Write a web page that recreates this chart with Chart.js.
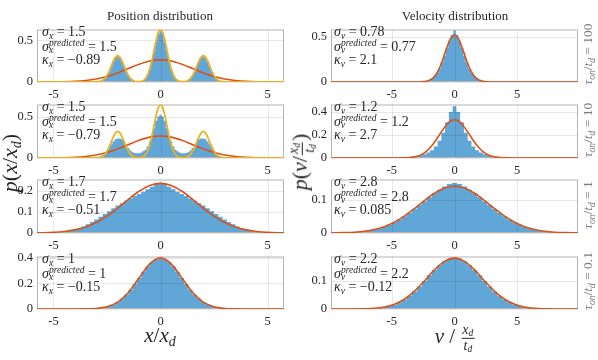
<!DOCTYPE html>
<html>
<head>
<meta charset="utf-8">
<script src="https://cdn.jsdelivr.net/npm/chart.js@4.4.1/dist/chart.umd.min.js"></script>
<style>
  body { margin: 0; background: #fff; }
  #fig { position: relative; width: 598px; height: 360px; overflow: hidden;
         font-family: "Liberation Serif", serif; color: #262626; }
  #fig canvas { position: absolute; }
  .lbl { position: absolute; white-space: nowrap; line-height: 1; }
  .ann { font-size: 14px; }
  .sb { font-size: 9.5px; font-style: italic; position: relative; top: 3px; }
  .st { position: relative; display: inline-block; line-height: 9px; }
  .sp { font-size: 9.5px; font-style: italic; position: relative; top: -5px; }
  .sb2 { font-size: 9.5px; font-style: italic; position: absolute; left: 0; top: 4px; }
  .title { font-size: 13px; transform: translate(-50%, -50%); }
  .rot { transform: translate(-50%, -50%) rotate(-90deg); }
  .tau { font-size: 13.5px; color: #7a7a7a; }
  .big { font-size: 22px; }
  .xl { font-size: 21px; }
  .bsb { font-size: 14px; font-style: italic; position: relative; top: 4px; }
  .frac { display: inline-flex; flex-direction: column; align-items: center;
          vertical-align: middle; font-size: 14px; line-height: 1.05; margin: 0 1px; }
  .frac > span:first-child { border-bottom: 1px solid currentColor; padding: 0 1px; }
  .fsb { font-size: 9.5px; font-style: italic; position: relative; top: 2px; }
</style>
</head>
<body>
<div id="fig"></div>
<script>
// ---- axes ----
const posRange = [-5.77, 5.77];
const velRange = [-9.85, 9.85];
const xTicks = [-5, 0, 5];
const posYMax = [0.63, 0.645, 0.253, 0.41];
const velYMax = [0.578, 0.465, 0.163, 0.187];
const posYTicks = [[0, 0.5], [0, 0.5], [0, 0.1, 0.2], [0, 0.2, 0.4]];
const velYTicks = [[0, 0.5], [0, 0.2, 0.4], [0, 0.1], [0, 0.1]];
const tauLabels = ['100', '10', '1', '0.1'];

// ---- annotations ----
const posSigma = ['1.5', '1.5', '1.7', '1'];
const posSigmaPred = ['1.5', '1.5', '1.7', '1'];
const posKappa = ['\u22120.89', '\u22120.79', '\u22120.51', '\u22120.15'];
const velSigma = ['0.78', '1.2', '2.8', '2.2'];
const velSigmaPred = ['0.77', '1.2', '2.8', '2.2'];
const velKappa = ['2.1', '2.7', '0.085', '\u22120.12'];

// ---- position histograms (bin centres, heights) ----
const posBins1 = steps(-3, 3, 0.1);
const posHist1 = [0.001, 0.004, 0.009, 0.02, 0.042, 0.076, 0.125, 0.185, 0.245, 0.29, 0.305, 0.29, 0.245, 0.185, 0.125, 0.076, 0.042, 0.02, 0.009, 0.004, 0.004, 0.008, 0.018, 0.04, 0.08, 0.15, 0.25, 0.37, 0.49, 0.58,
  0.61, 0.58, 0.49, 0.37, 0.25, 0.15, 0.08, 0.04, 0.018, 0.008, 0.004, 0.004, 0.009, 0.02, 0.042, 0.076, 0.125, 0.185, 0.245, 0.29, 0.305, 0.29, 0.245, 0.185, 0.125, 0.076, 0.042, 0.02, 0.009, 0.004, 0.001];
const posBins2 = steps(-3, 3, 0.1);
const posHist2 = [0.005, 0.01, 0.02, 0.035, 0.06, 0.09, 0.125, 0.165, 0.2, 0.225, 0.235, 0.235, 0.225, 0.2, 0.16, 0.12, 0.09, 0.07, 0.06, 0.056, 0.058, 0.065, 0.08, 0.1, 0.14, 0.2, 0.27, 0.36, 0.45, 0.5,
  0.52, 0.5, 0.45, 0.36, 0.27, 0.2, 0.14, 0.1, 0.08, 0.065, 0.058, 0.056, 0.06, 0.07, 0.09, 0.12, 0.16, 0.2, 0.225, 0.235, 0.235, 0.225, 0.2, 0.165, 0.125, 0.09, 0.06, 0.035, 0.02, 0.01, 0.005];
const posBins3 = steps(-5, 5, 0.2);
const posHist3 = [0.001, 0.002, 0.004, 0.007, 0.011, 0.016, 0.023, 0.031, 0.041, 0.052, 0.064, 0.077, 0.09, 0.103, 0.117, 0.13, 0.141, 0.152, 0.163, 0.175, 0.185, 0.195, 0.207, 0.219, 0.232,
  0.238, 0.232, 0.219, 0.207, 0.195, 0.185, 0.175, 0.163, 0.152, 0.141, 0.13, 0.117, 0.103, 0.09, 0.077, 0.064, 0.052, 0.041, 0.031, 0.023, 0.016, 0.011, 0.007, 0.004, 0.002, 0.001];
const posBins4 = steps(-3.4, 3.4, 0.2);
const posHist4 = [0.001, 0.002, 0.004, 0.008, 0.014, 0.023, 0.036, 0.055, 0.08, 0.112, 0.151, 0.195, 0.243, 0.29, 0.333, 0.367, 0.389,
  0.395, 0.389, 0.367, 0.333, 0.29, 0.243, 0.195, 0.151, 0.112, 0.08, 0.055, 0.036, 0.023, 0.014, 0.008, 0.004, 0.002, 0.001];

// gaussian fits (red) for position
const posFitX = steps(-6, 6, 0.5);
const posFit1 = [0, 0.0003, 0.001, 0.003, 0.0076, 0.0175, 0.036, 0.066, 0.109, 0.161, 0.213, 0.252, 0.266, 0.252, 0.213, 0.161, 0.109, 0.066, 0.036, 0.0175, 0.0076, 0.003, 0.001, 0.0003, 0];
const posFit2 = [0, 0.0003, 0.001, 0.003, 0.0076, 0.0175, 0.036, 0.066, 0.109, 0.161, 0.213, 0.252, 0.266, 0.252, 0.213, 0.161, 0.109, 0.066, 0.036, 0.0175, 0.0076, 0.003, 0.001, 0.0003, 0];
const posFit3 = [0.0005, 0.0013, 0.0031, 0.0071, 0.0147, 0.0282, 0.0495, 0.0796, 0.1175, 0.159, 0.1974, 0.2248, 0.2347, 0.2248, 0.1974, 0.159, 0.1175, 0.0796, 0.0495, 0.0282, 0.0147, 0.0071, 0.0031, 0.0013, 0.0005];
const posFit4 = [0, 0, 0, 0, 0.0001, 0.0009, 0.0044, 0.0175, 0.054, 0.1295, 0.242, 0.352, 0.399, 0.352, 0.242, 0.1295, 0.054, 0.0175, 0.0044, 0.0009, 0.0001, 0, 0, 0, 0];

// potential-based prediction (yellow), only for the two slow rows
const posPotX = [-6, ...steps(-3, 3, 0.1), 6];
const posPot1 = [0, 0.001, 0.004, 0.009, 0.021, 0.043, 0.078, 0.129, 0.191, 0.252, 0.298, 0.315, 0.298, 0.252, 0.191, 0.129, 0.078, 0.043, 0.021, 0.009, 0.004, 0.004, 0.007, 0.018, 0.041, 0.085, 0.157, 0.259, 0.382, 0.505, 0.596,
  0.63, 0.596, 0.505, 0.382, 0.259, 0.157, 0.085, 0.041, 0.018, 0.007, 0.004, 0.004, 0.009, 0.021, 0.043, 0.078, 0.129, 0.191, 0.252, 0.298, 0.315, 0.298, 0.252, 0.191, 0.129, 0.078, 0.043, 0.021, 0.009, 0.004, 0.001, 0];
const posPot2 = [0, 0.001, 0.004, 0.009, 0.021, 0.043, 0.08, 0.132, 0.194, 0.256, 0.303, 0.32, 0.303, 0.256, 0.194, 0.132, 0.08, 0.043, 0.021, 0.009, 0.004, 0.004, 0.007, 0.018, 0.042, 0.087, 0.161, 0.265, 0.392, 0.517, 0.61,
  0.645, 0.61, 0.517, 0.392, 0.265, 0.161, 0.087, 0.042, 0.018, 0.007, 0.004, 0.004, 0.009, 0.021, 0.043, 0.08, 0.132, 0.194, 0.256, 0.303, 0.32, 0.303, 0.256, 0.194, 0.132, 0.08, 0.043, 0.021, 0.009, 0.004, 0.001, 0];

// ---- velocity histograms ----
const velBins1 = steps(-3, 3, 0.2);
const velHist1 = [0.002, 0.004, 0.007, 0.011, 0.018, 0.028, 0.043, 0.066, 0.1, 0.15, 0.215, 0.29, 0.375, 0.455, 0.52,
  0.57, 0.52, 0.455, 0.375, 0.29, 0.215, 0.15, 0.1, 0.066, 0.043, 0.028, 0.018, 0.011, 0.007, 0.004, 0.002];
const velBins2 = steps(-4.5, 4.5, 0.3);
const velHist2 = [0.002, 0.003, 0.005, 0.007, 0.011, 0.016, 0.023, 0.033, 0.047, 0.068, 0.1, 0.15, 0.22, 0.31, 0.4,
  0.45, 0.4, 0.31, 0.22, 0.15, 0.1, 0.068, 0.047, 0.033, 0.023, 0.016, 0.011, 0.007, 0.005, 0.003, 0.002];
const velBins3 = steps(-8.4, 8.4, 0.4);
const velHist3 = [0.001, 0.002, 0.003, 0.005, 0.007, 0.01, 0.014, 0.019, 0.025, 0.033, 0.041, 0.051, 0.062, 0.073, 0.085, 0.097, 0.109, 0.121, 0.132, 0.142, 0.149,
  0.152, 0.149, 0.142, 0.132, 0.121, 0.109, 0.097, 0.085, 0.073, 0.062, 0.051, 0.041, 0.033, 0.025, 0.019, 0.014, 0.01, 0.007, 0.005, 0.003, 0.002, 0.001];
const velBins4 = steps(-6.8, 6.8, 0.4);
const velHist4 = [0.001, 0.002, 0.004, 0.007, 0.011, 0.016, 0.024, 0.034, 0.047, 0.062, 0.08, 0.1, 0.12, 0.139, 0.156, 0.17, 0.18,
  0.184, 0.18, 0.17, 0.156, 0.139, 0.12, 0.1, 0.08, 0.062, 0.047, 0.034, 0.024, 0.016, 0.011, 0.007, 0.004, 0.002, 0.001];

// gaussian fits (red) for velocity
const velFitX1 = [-10, ...steps(-3, 3, 0.2), 10];
const velFit1 = [0, 0.0002, 0.0007, 0.0017, 0.004, 0.0087, 0.018, 0.034, 0.06, 0.099, 0.154, 0.223, 0.302, 0.382, 0.453, 0.501,
  0.518, 0.501, 0.453, 0.382, 0.302, 0.223, 0.154, 0.099, 0.06, 0.034, 0.018, 0.0087, 0.004, 0.0017, 0.0007, 0.0002, 0];
const velFitX2 = [-10, ...steps(-4.5, 4.5, 0.3), 10];
const velFit2 = [0, 0.0003, 0.0007, 0.0017, 0.0037, 0.0076, 0.0146, 0.0265, 0.045, 0.072, 0.108, 0.152, 0.202, 0.251, 0.293, 0.322,
  0.332, 0.322, 0.293, 0.251, 0.202, 0.152, 0.108, 0.072, 0.045, 0.0265, 0.0146, 0.0076, 0.0037, 0.0017, 0.0007, 0.0003, 0];
const velFitX3 = [-10, ...steps(-9.6, 9.6, 0.8), 10];
const velFit3 = [0.0002, 0.0004, 0.001, 0.0024, 0.0052, 0.0105, 0.0193, 0.0328, 0.0514, 0.0742, 0.0987, 0.121, 0.1368,
  0.1425, 0.1368, 0.121, 0.0987, 0.0742, 0.0514, 0.0328, 0.0193, 0.0105, 0.0052, 0.0024, 0.001, 0.0004, 0.0002];
const velFitX4 = [-10, ...steps(-9.6, 9.6, 0.8), 10];
const velFit4 = [0, 0, 0, 0.0002, 0.0009, 0.0026, 0.0071, 0.0168, 0.0347, 0.063, 0.1, 0.1392, 0.1697,
  0.1813, 0.1697, 0.1392, 0.1, 0.063, 0.0347, 0.0168, 0.0071, 0.0026, 0.0009, 0.0002, 0, 0, 0];

// bin / sample positions on a regular grid
function steps(from, to, step) {
  const n = Math.round((to - from) / step);
  return Array.from({ length: n + 1 }, (_, i) => +(from + i * step).toFixed(4));
}
function zip(xs, ys) { return xs.map((x, i) => ({ x, y: ys[i] })); }

const HIST_COLOR = 'rgb(96,166,214)';
const FIT_COLOR = '#d95319';
const POT_COLOR = '#edb120';
const TEXT = '#262626';

const PLOT_W = 247, PAD_L = 36, PAD_T = 8, PAD_R = 4, PAD_B = 22;
const colLeft = [37, 331];
const rowTop = [26, 101, 176, 253];
const rowH = [56, 57, 57, 56];

Chart.defaults.font.family = "'Liberation Serif', serif";
Chart.defaults.font.size = 12.5;
Chart.defaults.color = TEXT;

// grid and box go on top of the histogram but under the curves
const boxGrid = {
  id: 'boxGrid',
  afterDatasetDraw(chart, args) {
    if (args.index !== 0) return;
    const { ctx, chartArea: a, scales: { x, y } } = chart;
    ctx.save();
    ctx.lineWidth = 1;
    ctx.strokeStyle = 'rgba(0,0,0,0.09)';
    ctx.beginPath();
    x.ticks.forEach(t => {
      const px = Math.round(x.getPixelForValue(t.value)) + 0.5;
      ctx.moveTo(px, a.top); ctx.lineTo(px, a.bottom);
    });
    y.ticks.forEach(t => {
      const py = Math.round(y.getPixelForValue(t.value)) + 0.5;
      ctx.moveTo(a.left, py); ctx.lineTo(a.right, py);
    });
    ctx.stroke();
    ctx.strokeStyle = '#b4b4b4';
    ctx.strokeRect(a.left + 0.5, a.top + 0.5, a.width - 1, a.height - 1);
    ctx.restore();
  }
};

const fig = document.getElementById('fig');

function addPanel(col, row, p) {
  const c = document.createElement('canvas');
  const w = PAD_L + PLOT_W + PAD_R, h = PAD_T + rowH[row] + PAD_B;
  c.width = w; c.height = h;
  c.style.left = (colLeft[col] - PAD_L) + 'px';
  c.style.top = (rowTop[row] - PAD_T) + 'px';
  c.style.width = w + 'px'; c.style.height = h + 'px';
  fig.appendChild(c);

  const datasets = [
    { data: zip(p.hx, p.hy), stepped: 'middle', fill: 'origin', backgroundColor: HIST_COLOR,
      borderColor: 'transparent', borderWidth: 0, pointRadius: 0, order: 3 },
    { data: zip(p.fx, p.fy), borderColor: FIT_COLOR, borderWidth: 1.6, cubicInterpolationMode: 'monotone',
      pointRadius: 0, fill: false, order: 2 }
  ];
  if (p.px) {
    datasets.push({ data: zip(p.px, p.py), borderColor: POT_COLOR, borderWidth: 1.8,
      cubicInterpolationMode: 'monotone', pointRadius: 0, fill: false, order: 1 });
  }

  new Chart(c, {
    type: 'line',
    data: { datasets },
    options: {
      responsive: false,
      animation: false,
      events: [],
      layout: { padding: { top: PAD_T, right: PAD_R, left: 0, bottom: 0 } },
      plugins: { legend: { display: false }, tooltip: { enabled: false } },
      scales: {
        x: {
          type: 'linear', min: p.range[0], max: p.range[1],
          grid: { display: false, drawTicks: false }, border: { display: false },
          afterBuildTicks: s => { s.ticks = xTicks.map(v => ({ value: v })); },
          afterFit: s => { s.height = PAD_B; },
          ticks: { padding: 5, maxRotation: 0, autoSkip: false, callback: v => String(v) }
        },
        y: {
          type: 'linear', min: 0, max: p.ymax,
          grid: { display: false, drawTicks: false }, border: { display: false },
          afterBuildTicks: s => { s.ticks = p.yticks.map(v => ({ value: v })); },
          afterFit: s => { s.width = PAD_L; },
          ticks: { padding: 4, autoSkip: false, callback: v => String(v) }
        }
      }
    },
    plugins: [boxGrid]
  });
}

const posH = [[posBins1, posHist1], [posBins2, posHist2], [posBins3, posHist3], [posBins4, posHist4]];
const posF = [posFit1, posFit2, posFit3, posFit4];
const posP = [posPot1, posPot2, null, null];
const velH = [[velBins1, velHist1], [velBins2, velHist2], [velBins3, velHist3], [velBins4, velHist4]];
const velF = [[velFitX1, velFit1], [velFitX2, velFit2], [velFitX3, velFit3], [velFitX4, velFit4]];

for (let r = 0; r < 4; r++) {
  addPanel(0, r, {
    range: posRange, ymax: posYMax[r], yticks: posYTicks[r],
    hx: posH[r][0], hy: posH[r][1], fx: posFitX, fy: posF[r],
    px: posP[r] ? posPotX : null, py: posP[r]
  });
  addPanel(1, r, {
    range: velRange, ymax: velYMax[r], yticks: velYTicks[r],
    hx: velH[r][0], hy: velH[r][1], fx: velF[r][0], fy: velF[r][1]
  });
}

// ---- text ----
function label(html, left, top, cls) {
  const d = document.createElement('div');
  d.className = 'lbl ' + (cls || '');
  d.style.left = left + 'px';
  d.style.top = top + 'px';
  d.innerHTML = html;
  fig.appendChild(d);
}

function annotate(col, row, v, sig, pred, kap) {
  const x = colLeft[col] + (col === 0 ? 5 : 3);
  const t = rowTop[row];
  label(`<i>σ</i><span class="sb">${v}</span> = ${sig}`, x, t - 1.5, 'ann');
  label(`<i>σ</i><span class="st"><span class="sp">predicted</span><span class="sb2">${v}</span></span> = ${pred}`, x, t + 14, 'ann');
  label(`<i>κ</i><span class="sb">${v}</span> = ${kap}`, x, t + 27, 'ann');
}

for (let r = 0; r < 4; r++) {
  annotate(0, r, 'x', posSigma[r], posSigmaPred[r], posKappa[r]);
  annotate(1, r, 'v', velSigma[r], velSigmaPred[r], velKappa[r]);
  label(`<i>τ</i><span class="sb">on</span>/<i>t</i><span class="sb">d</span> = ${tauLabels[r]}`,
    588, rowTop[r] + rowH[r] / 2, 'tau rot');
}

label('Position distribution', 160, 15, 'title');
label('Velocity distribution', 455, 15, 'title');

label('<i>p</i>(<i>x</i>/<i>x</i><span class="bsb">d</span>)', 10, 163, 'big rot');
label('<i>p</i>(<i>v</i>/<span class="frac"><span><i>x</i><span class="fsb">d</span></span><span><i>t</i><span class="fsb">d</span></span></span>)',
  302, 162, 'big rot');

label('<i>x</i>/<i>x</i><span class="bsb">d</span>', 160, 335, 'xl title');
label('<i>v</i> / <span class="frac"><span><i>x</i><span class="fsb">d</span></span><span><i>t</i><span class="fsb">d</span></span></span>',
  455, 338, 'xl title');
</script>
</body>
</html>
